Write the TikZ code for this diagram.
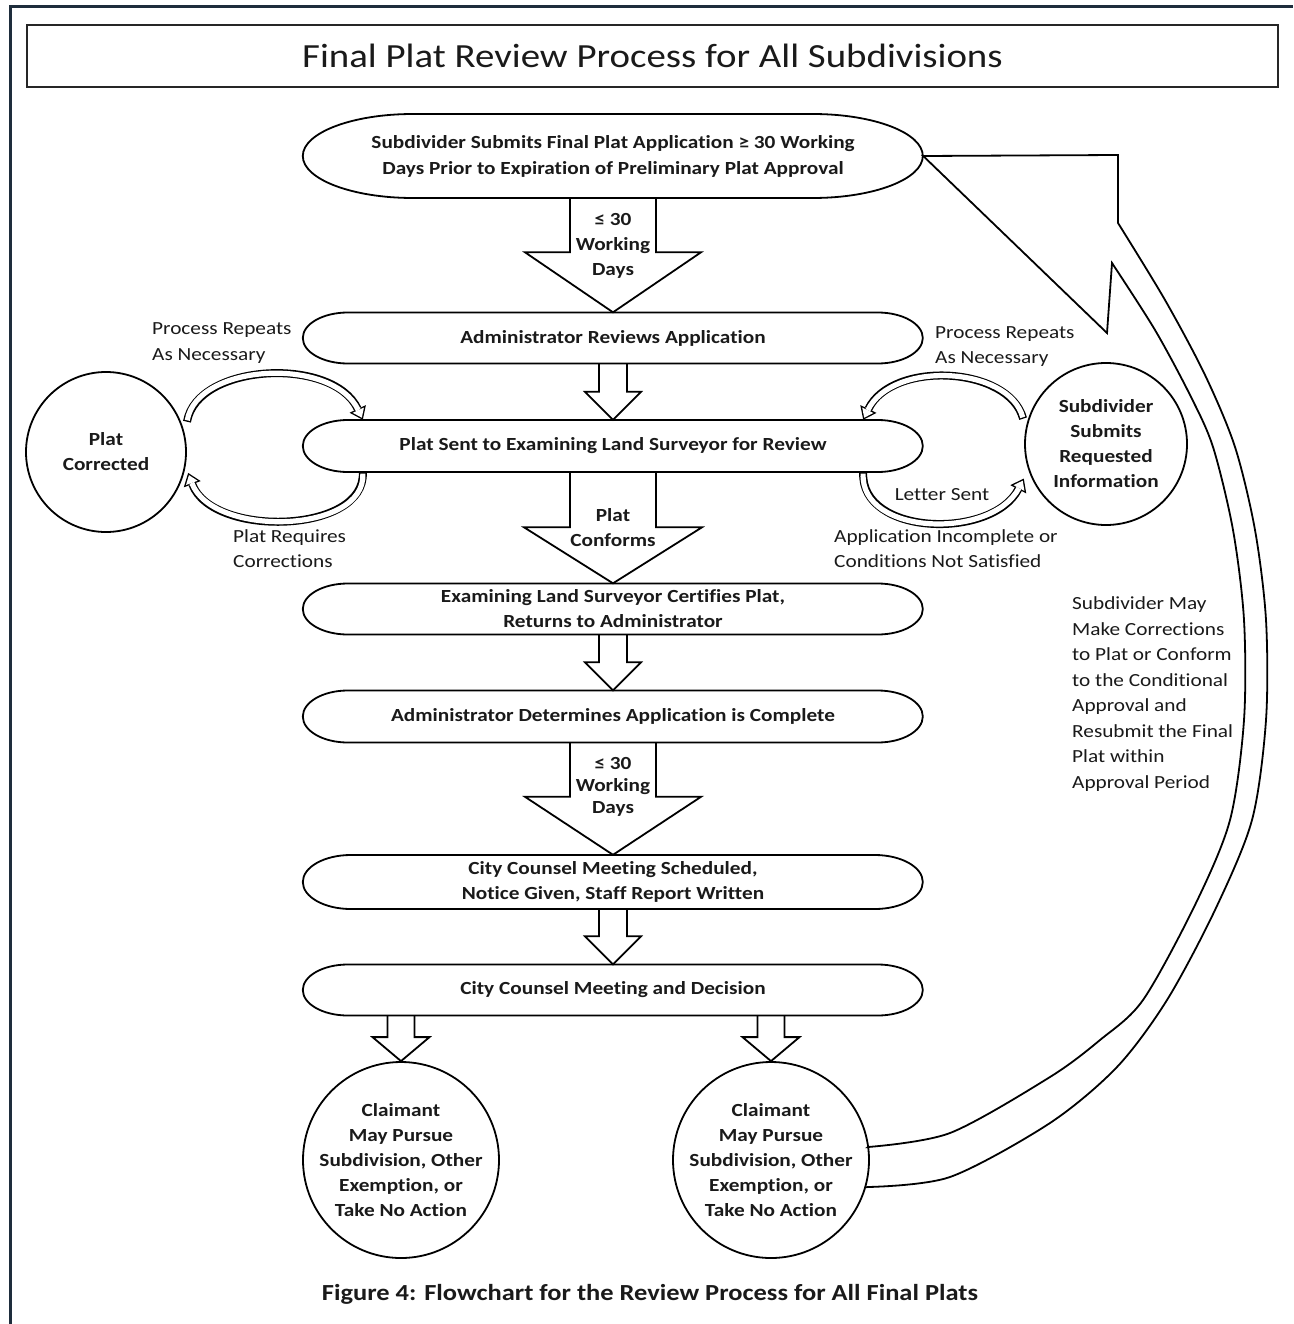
\documentclass[tikz,border=0pt]{standalone}
\usepackage{fontspec}
\setmainfont{Carlito}[FakeStretch=1.15, Ligatures=NoCommon]
\usetikzlibrary{calc,arrows.meta}
\definecolor{framecol}{HTML}{1E2D3C}
\definecolor{ink}{HTML}{1A1A1A}

\tikzset{
  shapeline/.style={draw=black, line width=1.8pt},
  boxtext/.style={font=\bfseries\fontsize{18.5}{26}\selectfont, align=center, text=ink},
  sidetext/.style={font=\fontsize{18.5}{25.5}\selectfont, align=left, inner sep=0pt, text=ink, anchor=west},
  bandblack/.style={line width=8pt, draw=black, -{Triangle[width=18pt,length=12pt,line width=0pt]}},
  bandwhite/.style={line width=5.2pt, draw=white, shorten <=1.4pt, shorten >=2.33pt, -{Triangle[width=12.4pt,length=8.27pt,line width=0pt]}},
}

\newcommand\capsule[7]{%
  \node[boxtext, inner sep=0pt, minimum width={2*#4pt}, minimum height={2*#5pt}] (#1) at (#2,#3) {#7};
  \draw[shapeline] (#1.west) arc[start angle=180,end angle=90,x radius=#6pt,y radius=#5pt]
    -- ++({2*#4-2*#6},0) arc[start angle=90,end angle=-90,x radius=#6pt,y radius=#5pt]
    -- ++({2*#6-2*#4},0) arc[start angle=270,end angle=180,x radius=#6pt,y radius=#5pt] -- cycle;
}
\newcommand\blockarrow[5]{%
  \draw[shapeline] ($(#1)+(-#3,0)$) -- ($(#2)+(-#3,-#5)$) -- ($(#2)+(-#4,-#5)$) -- (#2)
    -- ($(#2)+(#4,-#5)$) -- ($(#2)+(#3,-#5)$) -- ($(#1)+(#3,0)$);
}
\newcommand\hollowarc[4]{%
  \draw[bandblack] (#1) .. controls (#2) and (#3) .. (#4);
  \draw[bandwhite] (#1) .. controls (#2) and (#3) .. (#4);
}

\begin{document}
\begin{tikzpicture}[x=1pt,y=-1pt]
\useasboundingbox (0,0) rectangle (1293,1324);
\fill[white] (0,0) rectangle (1293,1324);
\draw[framecol, line width=3pt] (10,1324) -- (10,7) -- (1293,7);

% title
\node[draw=black!85, line width=2.2pt, minimum width=1251pt, minimum height=62pt, inner sep=0pt,
      font=\fontsize{33.8}{38}\selectfont, text=ink] (title) at (652.5,56) {Final Plat Review Process for All Subdivisions};

% main column
\capsule{e1}{613}{156}{310}{42}{110}{Subdivider Submits Final Plat Application ≥ 30 Working\\Days Prior to Expiration of Preliminary Plat Approval}
\capsule{e2}{613}{338}{310}{25.5}{45}{Administrator Reviews Application}
\capsule{e3}{613}{446}{310}{26}{45}{Plat Sent to Examining Land Surveyor for Review}
\capsule{e4}{613}{609}{310}{25.5}{45}{Examining Land Surveyor Certifies Plat,\\[-1pt]Returns to Administrator}
\capsule{e5}{613}{716.5}{310}{26}{45}{Administrator Determines Application is Complete}
\capsule{e6}{613}{882}{310}{27}{48}{City Counsel Meeting Scheduled,\\[-1pt]Notice Given, Staff Report Written}
\capsule{e7}{613}{990}{310}{25.5}{45}{City Counsel Meeting and Decision}

% circles
\node[circle, shapeline, minimum size=196pt, inner sep=0pt] (c1) at (401,1160) {};
\node[boxtext] (c1t) at (c1) {Claimant\\[-1pt]May Pursue\\[-1pt]Subdivision, Other\\[-1pt]Exemption, or\\[-1pt]Take No Action};
\node[circle, shapeline, minimum size=196pt, inner sep=0pt] (c2) at (771,1160) {};
\node[boxtext] (c2t) at (c2) {Claimant\\[-1pt]May Pursue\\[-1pt]Subdivision, Other\\[-1pt]Exemption, or\\[-1pt]Take No Action};
\node[circle, shapeline, minimum size=160pt, inner sep=0pt] (cl) at (106,452) {};
\node[boxtext] (clt) at (cl) {Plat\\[-1pt]Corrected};
\node[circle, shapeline, minimum size=162pt, inner sep=0pt] (cr) at (1106,444) {};
\node[boxtext] (crt) at (cr) {Subdivider\\[-1pt]Submits\\[-1pt]Requested\\[-1pt]Information};

% block arrows
\blockarrow{e1.south}{e2.north}{43}{88}{60}
\node[boxtext] (a1t) at (613,246) {≤ 30\\[-1pt]Working\\[-1pt]Days};
\blockarrow{e2.south}{e3.north}{14}{28}{28}
\blockarrow{e3.south}{e4.north}{43}{89}{56}
\node[boxtext] (a2t) at (613,527.5) {Plat\\[-1pt]Conforms};
\blockarrow{e4.south}{e5.north}{14}{28}{28}
\blockarrow{e5.south}{e6.north}{43}{88}{58}
\node[boxtext] (a3t) at (613,787) {≤ 30\\[-4pt]Working\\[-4pt]Days};
\blockarrow{e6.south}{e7.north}{14}{28}{28}
\coordinate (b1) at ($(e7.south)+(-212,0)$);
\coordinate (b2) at ($(e7.south)+(158,0)$);
\blockarrow{b1}{c1.north}{13.5}{28.5}{24}
\blockarrow{b2}{c2.north}{13.5}{28.5}{24}

% hollow loop arrows (left)
\hollowarc{$(cl.22)+(6,0)$}{197,363}{333,356}{$(e3.north west)+(60,0)$}
\hollowarc{$(e3.south west)+(60,0)$}{366,534}{212,538}{$(cl.-15)+(4,0)$}
% hollow loop arrows (right)
\hollowarc{$(cr.162)+(-5,0)$}{1009,366}{892,360}{$(e3.north east)+(-60,0)$}
\hollowarc{$(e3.south east)+(-60,0)$}{860,536}{992,540}{$(cr.205)+(-8,0)$}

% big return arrow
\draw[shapeline, line join=miter] (c2.8) -- plot[smooth] coordinates {(868,1147) (950,1133) (1050,1077) (1100,1040) (1143,1000) (1195,905) (1230,820) (1244,720) (1244,620) (1233,530) (1213,447) (1190,395) (1155,330) (1112,263)}
  -- (1107,333) -- (e1.east) -- (1118,155) -- (1118,223)
  -- plot[smooth] coordinates {(1118,223) (1165,300) (1205,375) (1235,447) (1255,530) (1266,620) (1266,720) (1252,820) (1215,910) (1167,1000) (1117,1067) (1050,1123) (950,1177) (868,1187)}
  -- (c2.-16);

% side labels
\node[sidetext] (l1) at (152,343) {Process Repeats\\As Necessary};
\node[sidetext] (l2) at (233,548.5) {Plat Requires\\Corrections};
\node[sidetext] (l3) at (935,346.5) {Process Repeats\\As Necessary};
\node[sidetext, anchor=center] (l4) at (942,495) {Letter Sent};
\node[sidetext] (l5) at (834,548.5) {Application Incomplete or\\Conditions Not Satisfied};
\node[sidetext] (l6) at (1072,694) {Subdivider May\\Make Corrections\\to Plat or Conform\\to the Conditional\\Approval and\\Resubmit the Final\\Plat within\\Approval Period};

% caption
\node[font=\bfseries\fontsize{23}{26}\selectfont, text=ink] (cap) at (650,1294) {Figure 4: Flowchart for the Review Process for All Final Plats};
\end{tikzpicture}
\end{document}
